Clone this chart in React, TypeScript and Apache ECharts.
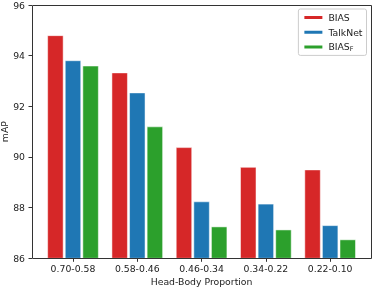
import React, { useEffect, useRef } from "react";
import * as echarts from "echarts";

const categories = ["0.70-0.58", "0.58-0.46", "0.46-0.34", "0.34-0.22", "0.22-0.10"];
const biasValues = [94.8, 93.33, 90.38, 89.6, 89.5];
const talknetValues = [93.81, 92.54, 88.24, 88.15, 87.3];
const biasFValues = [93.6, 91.2, 87.25, 87.13, 86.74];
const seriesNames = ["BIAS", "TalkNet", "BIAS_F"];
const seriesColors = ["#d62728", "#1f77b4", "#2ca02c"];

const FONT = "'DejaVu Sans', sans-serif";

export default function App() {
  const ref = useRef<HTMLDivElement>(null);
  useEffect(() => {
    if (!ref.current) return;
    const chart = echarts.init(ref.current, undefined, { renderer: "svg" });
    const dataSets = [biasValues, talknetValues, biasFValues];
    chart.setOption({
      animation: false,
      textStyle: { fontFamily: FONT },
      grid: {
        left: 40.85,
        right: 11.7,
        top: 5,
        bottom: 29.7,
        containLabel: false,
        outerBoundsMode: "none",
      },
      graphic: [
        {
          type: "rect",
          z: 100,
          shape: { x: 32.5, y: 5.5, width: 339, height: 253 },
          style: { fill: "none", stroke: "#333", lineWidth: 1 },
        },
      ],
      legend: {
        right: 7.5,
        top: 9,
        orient: "vertical",
        itemWidth: 20,
        itemHeight: 5,
        itemGap: 3.7,
        icon: "rect",
        backgroundColor: "#fff",
        borderColor: "#ccc",
        borderWidth: 1,
        borderRadius: 2,
        padding: [3, 4, 3, 4],
        data: seriesNames,
        formatter: (n: string) => (n === "BIAS_F" ? "BIAS{sub|F}" : n),
        textStyle: {
          fontFamily: FONT,
          fontSize: 9.3,
          color: "#222",
          lineHeight: 11,
          rich: {
            sub: { fontSize: 6.5, verticalAlign: "bottom", padding: [4, 0, 0, 0], fontFamily: FONT, color: "#222" },
          },
        },
      },
      xAxis: {
        type: "category",
        data: categories,
        name: "Head-Body Proportion",
        nameLocation: "middle",
        nameGap: 19,
        nameMoveOverlap: false,
        nameTextStyle: { fontFamily: FONT, fontSize: 9.3, color: "#222" },
        axisLine: { show: false },
        axisTick: { show: true, alignWithLabel: true, length: 3.5, lineStyle: { color: "#333" } },
        axisLabel: { fontFamily: FONT, fontSize: 9.3, color: "#222", margin: 6 },
      },
      yAxis: {
        type: "value",
        min: 86,
        max: 96,
        interval: 2,
        offset: 8.85,
        name: "mAP",
        nameLocation: "middle",
        nameGap: 23,
        nameMoveOverlap: false,
        nameRotate: 90,
        nameTextStyle: { fontFamily: FONT, fontSize: 9.3, color: "#222" },
        splitLine: { show: false },
        axisLine: { show: false },
        axisTick: { show: true, length: 3.5, lineStyle: { color: "#333" } },
        axisLabel: { fontFamily: FONT, fontSize: 9.3, color: "#222", margin: 7 },
      },
      series: seriesNames.map((name, i) => ({
        name,
        type: "bar",
        data: dataSets[i],
        barWidth: 16,
        barGap: "10%",
        itemStyle: { color: seriesColors[i], borderColor: "#fff", borderWidth: 0.5 },
      })),
    });
    return () => chart.dispose();
  }, []);
  return <div ref={ref} style={{ position: "fixed", left: 0, top: 0, width: 374, height: 288 }} />;
}
